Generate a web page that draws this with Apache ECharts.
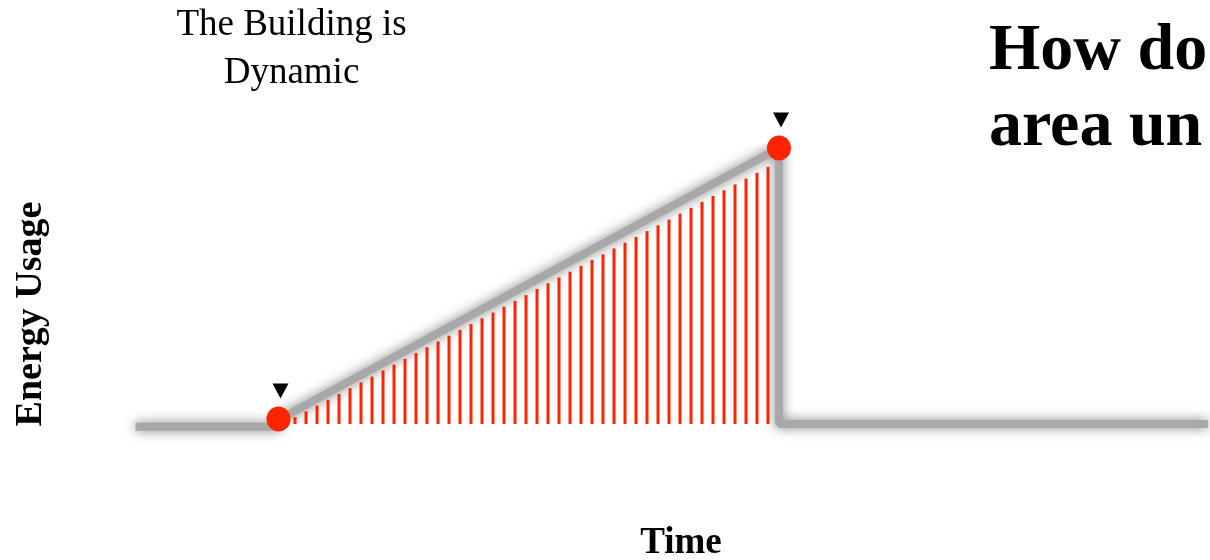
<!DOCTYPE html>
<html>
<head>
<meta charset="utf-8">
<script src="https://cdn.jsdelivr.net/npm/echarts@6/dist/echarts.min.js"></script>
<style>
  html, body { margin: 0; padding: 0; background: #fff; }
  #chart { width: 1210px; height: 560px; }
</style>
</head>
<body>
<div id="chart"></div>
<script>
// Energy profile over time: base load, a linear rise, then a drop back to base load
const usagePath = [[2.5, -1], [15.5, -1], [15.5, 1.5], [61, 100], [61, 0], [100, 0]];

// Start and end of the rising period
const eventPoints = [[15.5, 1.8], [61, 100]];

// Time steps slicing the area under the rising curve
const sliceTimes = [17, 18, 19, 20, 21, 22, 23, 24, 25, 26, 27, 28, 29, 30, 31,
  32, 33, 34, 35, 36, 37, 38, 39, 40, 41, 42, 43, 44, 45, 46, 47, 48, 49, 50,
  51, 52, 53, 54, 55, 56, 57, 58, 59, 60];
const sliceValues = [2.5, 4.6, 6.7, 8.8, 10.9, 13.0, 15.1, 17.2, 19.4, 21.5,
  23.6, 25.7, 27.8, 29.9, 32.0, 34.1, 36.2, 38.3, 40.4, 42.5, 44.6, 46.7, 48.9,
  51.0, 53.1, 55.2, 57.3, 59.4, 61.5, 63.6, 65.7, 67.8, 69.9, 72.0, 74.1, 76.2,
  78.3, 80.5, 82.6, 84.7, 86.8, 88.9, 91.0, 93.1];

const headingText = 'How do\narea un';
const noteText = 'The Building is\nDynamic';
const xName = 'Time';
const yName = 'Energy Usage';

const SERIF = '"Liberation Serif", "DejaVu Serif", serif';
const RED = '#ff2400';

const chart = echarts.init(document.getElementById('chart'), null, { renderer: 'canvas' });

chart.setOption({
  animation: false,
  backgroundColor: '#ffffff',
  title: {
    text: headingText,
    left: 989,
    top: 14,
    padding: 0,
    textStyle: {
      fontFamily: SERIF,
      fontSize: 66,
      fontWeight: 'bold',
      lineHeight: 76,
      color: '#000'
    }
  },
  grid: { left: 108, right: 2, top: 148, bottom: 108.4 },
  xAxis: { type: 'value', min: 0, max: 100, show: false },
  yAxis: { type: 'value', min: -10, max: 100, show: false },
  graphic: [
    {
      type: 'text',
      x: 291.5,
      y: 1.5,
      style: {
        text: noteText,
        fontFamily: SERIF,
        fontSize: 37,
        lineHeight: 48,
        fill: '#000',
        align: 'center',
        verticalAlign: 'top'
      }
    },
    {
      type: 'text',
      x: 681,
      y: 543,
      style: {
        text: xName,
        fontFamily: SERIF,
        fontSize: 37,
        fontWeight: 'bold',
        fill: '#000',
        align: 'center',
        verticalAlign: 'middle'
      }
    },
    {
      type: 'text',
      x: 31,
      y: 314,
      rotation: Math.PI / 2,
      style: {
        text: yName,
        fontFamily: SERIF,
        fontSize: 38,
        fontWeight: 'bold',
        fill: '#000',
        align: 'center',
        verticalAlign: 'middle'
      }
    }
  ],
  series: [
    {
      name: 'usage',
      type: 'line',
      data: usagePath,
      showSymbol: false,
      z: 1,
      lineStyle: {
        color: '#a8a8a8',
        width: 8,
        shadowBlur: 12,
        shadowColor: 'rgba(0,0,0,0.5)'
      }
    },
    {
      name: 'slices',
      type: 'bar',
      data: sliceTimes.map((t, i) => [t, sliceValues[i]]),
      barWidth: 3,
      z: 2,
      itemStyle: { color: RED, opacity: 1 }
    },
    {
      name: 'events',
      type: 'scatter',
      data: eventPoints,
      symbol: 'circle',
      symbolSize: [24, 25],
      z: 3,
      itemStyle: { color: RED, opacity: 1 }
    },
    {
      name: 'markers',
      type: 'scatter',
      data: eventPoints,
      symbol: 'triangle',
      symbolRotate: 180,
      symbolSize: [16, 15],
      symbolOffset: [2, -28],
      z: 4,
      itemStyle: { color: '#000', opacity: 1 }
    }
  ]
});
</script>
</body>
</html>
